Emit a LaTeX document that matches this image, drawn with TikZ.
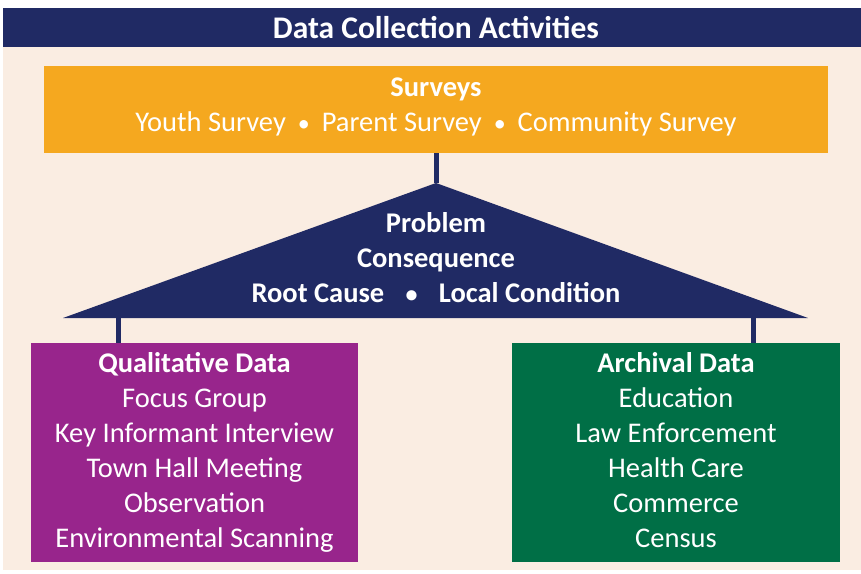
\documentclass[tikz,border=0pt]{standalone}
\usepackage{fontspec}
\setmainfont{Carlito}
\definecolor{navy}{RGB}{32,42,100}
\definecolor{cream}{RGB}{250,237,226}
\definecolor{amber}{RGB}{245,168,31}
\definecolor{plum}{RGB}{152,37,140}
\definecolor{pine}{RGB}{0,111,70}
\newcommand{\dotsep}[1][0.42em]{\hspace{#1}{\fontsize{24}{24}\selectfont\textbullet}\hspace{#1}}
\tikzset{
  box/.style={inner sep=0pt, align=center, text=white, font=\fontsize{28.5}{35}\selectfont},
  stem/.style={draw=navy, line width=5pt},
}
\begin{document}
\begin{tikzpicture}[x=1pt, y=-1pt]
    \useasboundingbox (0, 0) rectangle (861, 573);
    % background and title bar
    \path[fill=cream] (3, 47) rectangle (861, 570);
    \path[fill=navy] (3, 8) rectangle (861, 47);
    \node[box, font=\fontsize{31.5}{35}\selectfont\bfseries] (title) at (436, 28) {Data Collection Activities};
    % surveys
    \node[box, fill=amber, minimum width=784pt, minimum height=87pt] (surveys) at (436, 109.5)
      {\textbf{Surveys}\\Youth Survey\dotsep Parent Survey\dotsep Community Survey\strut};
    % triangle
    \coordinate (apex) at (436, 183);
    \coordinate (baseL) at (63, 318);
    \coordinate (baseR) at (808, 318);
    \path[fill=navy] (apex) -- (baseR) -- (baseL) -- cycle;
    \node[box, font=\fontsize{28.5}{35}\selectfont\bfseries] (problem) at (436, 258)
      {Problem\\Consequence\\Root Cause\dotsep[0.75em]Local Condition};
    \draw[stem] (surveys.south) -- (apex);
    % lower boxes
    \node[box, fill=plum, minimum width=327pt, minimum height=219pt] (qual) at (194.5, 452.5)
      {\strut\textbf{Qualitative Data}\\Focus Group\\Key Informant Interview\\Town Hall Meeting\\Observation\\Environmental Scanning\strut};
    \node[box, fill=pine, minimum width=328pt, minimum height=219pt] (arch) at (676, 452.5)
      {\strut\textbf{Archival Data}\\Education\\Law Enforcement\\Health Care\\Commerce\\Census\strut};
    \coordinate (legL) at (118, 318);
    \coordinate (legR) at (753, 318);
    \draw[stem] (legL) -- (legL |- qual.north);
    \draw[stem] (legR) -- (legR |- arch.north);
  \end{tikzpicture}
\end{document}
